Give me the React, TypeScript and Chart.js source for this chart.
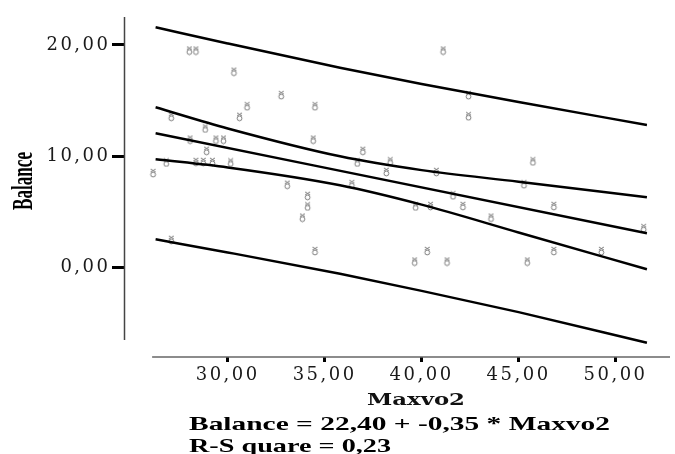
import React, { useEffect, useRef } from 'react';
import { Chart, registerables } from 'chart.js';

Chart.register(...registerables);

// Scatter data (Maxvo2 vs Balance)
const maxvo2 = [
  28.02, 28.36, 30.32, 32.76, 31.0, 34.5, 27.09, 30.61, 28.84, 28.06,
  29.39, 29.78, 34.41, 28.91, 36.97, 26.83, 28.36, 28.74, 29.21, 30.15,
  36.68, 38.38, 38.18, 26.15, 33.07, 36.4, 34.12, 41.11, 42.42, 42.42,
  40.76, 45.74, 45.28, 41.62, 34.12, 33.85, 34.5, 27.09, 39.69, 40.46,
  42.13, 46.82, 43.58, 51.45, 40.29, 39.64, 41.31, 45.45, 46.82, 49.27,
];
const balance = [
  19.5, 19.5, 17.6, 15.5, 14.5, 14.5, 13.55, 13.55, 12.5, 11.5,
  11.5, 11.5, 11.5, 10.5, 10.5, 9.45, 9.5, 9.5, 9.5, 9.45,
  9.45, 9.55, 8.6, 8.5, 7.45, 7.5, 6.45, 19.5, 15.5, 13.6,
  8.6, 9.55, 7.5, 6.5, 5.5, 4.5, 1.5, 2.5, 5.5, 5.55,
  5.55, 5.55, 4.5, 3.55, 1.5, 0.55, 0.55, 0.55, 1.5, 1.5,
];

// Fit line and bands
const fitX = [26.28, 51.62];
const fitY = [12.07, 3.09];
const bandX = [26.28, 30, 35.79, 40, 45, 51.62];
const ciUpper = [14.4, 12.5, 10.0, 8.76, 7.72, 6.32];
const ciLower = [9.74, 9.0, 7.4, 5.66, 3.16, -0.14];
const piUpper = [21.59, 20.13, 17.95, 16.5, 14.87, 12.82];
const piLower = [2.55, 1.37, -0.55, -2.08, -3.99, -6.74];

const xTicks = [30, 35, 40, 45, 50];
const yTicks = [0, 10, 20];
const xTitle = 'Maxvo2';
const yTitle = 'Balance';
const equation = 'Balance = 22,40 + -0,35 * Maxvo2';
const rSquare = 'R-S quare = 0,23';

const fmt = (v: number) => v.toFixed(2).replace('.', ',');

function makeGlyph(): HTMLCanvasElement {
  const c = document.createElement('canvas');
  c.width = 9;
  c.height = 10;
  const g = c.getContext('2d')!;
  g.strokeStyle = '#7a7a7a';
  g.lineWidth = 1;
  g.beginPath();
  g.arc(4.5, 6.5, 2.4, 0, Math.PI * 2);
  g.stroke();
  g.beginPath();
  g.moveTo(2, 1);
  g.lineTo(7, 4);
  g.moveTo(7, 1);
  g.lineTo(2, 4);
  g.stroke();
  return c;
}

function fitText(ctx: CanvasRenderingContext2D, text: string, font: string, x: number, y: number, width: number, color: string) {
  ctx.save();
  (ctx as any).letterSpacing = '0px';
  ctx.font = font;
  ctx.fillStyle = color;
  ctx.textAlign = 'left';
  ctx.textBaseline = 'alphabetic';
  const w = ctx.measureText(text).width;
  ctx.translate(x, y);
  ctx.scale(width / w, 1);
  ctx.fillText(text, 0, 0);
  ctx.restore();
}

export default function App() {
  const ref = useRef<HTMLCanvasElement>(null);

  useEffect(() => {
    document.body.style.margin = '0';
    const canvas = ref.current!;
    const glyph = makeGlyph();

    const spacingPlugin = {
      id: 'spacing',
      beforeDraw(chart: any) {
        chart.ctx.letterSpacing = '2.5px';
      },
      beforeDatasetsDraw(chart: any) {
        chart.ctx.letterSpacing = '0px';
      },
    };

    const decorPlugin = {
      id: 'decor',
      afterDraw(chart: any) {
        const ctx: CanvasRenderingContext2D = chart.ctx;
        const ca = chart.chartArea;
        const xs = chart.scales.x;
        const ys = chart.scales.y;
        ctx.save();
        (ctx as any).letterSpacing = '0px';
        // y axis line
        ctx.strokeStyle = '#444';
        ctx.lineWidth = 1.5;
        ctx.beginPath();
        ctx.moveTo(ca.left + 0.5, ca.top);
        ctx.lineTo(ca.left + 0.5, ys.getPixelForValue(-6.5));
        ctx.stroke();
        // x axis line
        ctx.strokeStyle = '#666';
        ctx.lineWidth = 1.5;
        ctx.beginPath();
        ctx.moveTo(xs.getPixelForValue(26.1), ca.bottom);
        ctx.lineTo(ca.right, ca.bottom);
        ctx.stroke();
        ctx.restore();

        fitText(ctx, xTitle, 'bold 17px "DejaVu Serif"', 367, 405, 98, '#111');
        fitText(ctx, equation, 'bold 19px "Liberation Serif"', 189, 430, 421, '#000');
        fitText(ctx, rSquare, 'bold 19px "Liberation Serif"', 189, 452, 202, '#000');

        // rotated y title
        ctx.save();
        (ctx as any).letterSpacing = '0px';
        ctx.font = 'bold 29px "Liberation Serif"';
        ctx.fillStyle = '#000';
        ctx.textBaseline = 'alphabetic';
        ctx.textAlign = 'left';
        const w = ctx.measureText(yTitle).width;
        ctx.translate(32, 210);
        ctx.rotate(-Math.PI / 2);
        ctx.scale(58 / w, 1);
        ctx.fillText(yTitle, 0, 0);
        ctx.restore();
      },
    };

    const pts = maxvo2.map((x, i) => ({ x, y: balance[i] }));
    const lineDs = (xs: number[], ys: number[]) => ({
      type: 'scatter' as const,
      data: xs.map((x, i) => ({ x, y: ys[i] })),
      showLine: true,
      borderColor: '#000',
      borderWidth: 2.5,
      pointRadius: 0,
      fill: false,
      cubicInterpolationMode: 'monotone' as const,
    });

    const chart = new Chart(canvas, {
      type: 'scatter',
      data: {
        datasets: [
          lineDs(bandX, piUpper),
          lineDs(bandX, ciUpper),
          lineDs(fitX, fitY),
          lineDs(bandX, ciLower),
          lineDs(bandX, piLower),
          {
            type: 'scatter',
            data: pts,
            pointStyle: glyph as any,
            pointRadius: 4,
            showLine: false,
          } as any,
        ],
      },
      options: {
        responsive: false,
        animation: false,
        devicePixelRatio: 1,
        layout: { padding: { top: 17, left: 0, right: 0, bottom: 0 } },
        plugins: { legend: { display: false }, tooltip: { enabled: false } },
        scales: {
          x: {
            type: 'linear',
            min: 24.65,
            max: 52.81,
            afterBuildTicks: (s: any) => {
              s.ticks = xTicks.map((v) => ({ value: v }));
            },
            afterFit: (s: any) => {
              s.height = 97;
            },
            border: { display: false },
            grid: { drawOnChartArea: false, drawTicks: true, tickLength: 5, tickWidth: 3, tickColor: '#000' },
            ticks: {
              callback: (v: any) => fmt(Number(v)),
              font: { family: '"DejaVu Serif"', size: 18 },
              color: '#1a1a1a',
              padding: 3,
              maxRotation: 0,
              autoSkip: false,
            },
          },
          y: {
            type: 'linear',
            min: -8.02,
            max: 22.51,
            afterBuildTicks: (s: any) => {
              s.ticks = yTicks.map((v) => ({ value: v }));
            },
            afterFit: (s: any) => {
              s.width = 124;
            },
            border: { display: false },
            grid: { drawOnChartArea: false, drawTicks: true, tickLength: 12, tickWidth: 3, tickColor: '#000' },
            ticks: {
              callback: (v: any) => fmt(Number(v)),
              font: { family: '"DejaVu Serif"', size: 18 },
              color: '#1a1a1a',
              padding: 1.5,
              autoSkip: false,
            },
          },
        },
      },
      plugins: [spacingPlugin, decorPlugin],
    });
    return () => chart.destroy();
  }, []);

  return <canvas ref={ref} width={675} height={454} style={{ display: 'block' }} />;
}
